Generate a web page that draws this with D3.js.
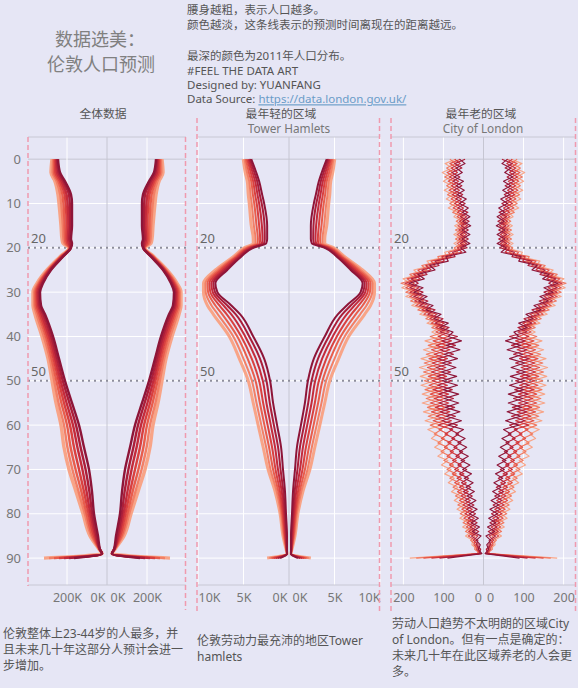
<!DOCTYPE html>
<html><head><meta charset="utf-8">
<script src="https://cdn.jsdelivr.net/npm/d3@7"></script>
<style>
html,body{margin:0;padding:0;background:#e6e6f5;}
svg{display:block;}
text{font-family:"Noto Sans","Noto Sans CJK SC",sans-serif;}
</style></head><body>
<svg id="c" width="578" height="688"></svg>
<script>
// ---------------- DATA ----------------
const years = [2011, 2016, 2021, 2026, 2031, 2036, 2041];
const ageKnots = [0,3,5,8,10,15,18,19,20,22,25,28,30,33,35,40,45,50,55,60,65,70,75,80,85,88,89,90];
const ageTicks = [0,10,20,30,40,50,60,70,80,90];
const markAges = [20, 50];

// 全体数据 (thousands)
const london2011 = [245,235,210,180,175,175,180,175,180,220,280,320,335,330,310,270,240,210,175,140,115,90,75,65,45,35,25,165];
const london2016 = [250,242,218,190,186,184,188,182,182,222,283,325,341,337,318,279,249,221,188,155,132,107,88,74,52,36,25,190];
const london2021 = [255,250,227,202,197,193,195,190,183,225,287,330,347,343,327,288,258,232,202,170,148,123,102,83,58,37,25,215];
const london2026 = [260,258,235,212,207,202,202,198,185,228,290,335,352,350,335,297,267,242,215,185,165,140,115,92,65,37,25,240];
const london2031 = [265,265,243,223,218,212,210,205,187,230,293,340,358,357,343,306,277,253,228,200,182,157,128,102,72,38,25,265];
const london2036 = [270,272,252,234,229,221,218,212,188,232,297,345,364,363,352,316,286,264,242,215,198,173,142,111,78,39,25,290];
const london2041 = [275,280,260,245,240,230,225,220,190,235,300,350,370,370,360,325,295,275,255,230,215,190,155,120,85,40,25,315];

// Tower Hamlets (thousands)
const th2011 = [4.15,3.60,3.28,2.95,2.73,2.40,2.40,2.51,3.93,5.25,6.78,8.09,7.87,6.34,5.36,3.93,2.73,2.08,1.75,1.31,0.87,0.66,0.44,0.33,0.22,0.22,0.22,0.98];
const th2016 = [4.30,3.80,3.50,3.21,3.00,2.69,2.66,2.75,4.10,5.40,7.00,8.31,8.13,6.78,5.85,4.37,3.19,2.48,2.11,1.66,1.20,0.93,0.62,0.44,0.29,0.24,0.22,1.22];
const th2021 = [4.44,4.00,3.72,3.46,3.28,2.98,2.91,2.98,4.26,5.54,7.22,8.53,8.38,7.21,6.34,4.81,3.64,2.88,2.48,2.00,1.53,1.21,0.80,0.55,0.37,0.26,0.22,1.45];
const th2026 = [4.59,4.20,3.94,3.72,3.55,3.28,3.17,3.22,4.43,5.69,7.44,8.75,8.64,7.65,6.84,5.25,4.10,3.28,2.84,2.35,1.86,1.48,0.99,0.66,0.44,0.28,0.22,1.69];
const th2031 = [4.74,4.41,4.15,3.97,3.82,3.57,3.42,3.46,4.59,5.83,7.65,8.96,8.89,8.09,7.33,5.68,4.55,3.68,3.20,2.70,2.19,1.75,1.17,0.76,0.51,0.29,0.22,1.93];
const th2036 = [4.88,4.61,4.37,4.23,4.10,3.86,3.68,3.69,4.76,5.98,7.87,9.18,9.15,8.52,7.82,6.12,5.01,4.08,3.57,3.04,2.51,2.03,1.35,0.87,0.59,0.31,0.22,2.16];
const th2041 = [5.03,4.81,4.59,4.48,4.37,4.15,3.93,3.93,4.92,6.12,8.09,9.40,9.40,8.96,8.31,6.56,5.46,4.48,3.93,3.39,2.84,2.30,1.53,0.98,0.66,0.33,0.22,2.40];

// City of London (persons, single years of age 0..90)
const cityYears = [2011, 2016, 2021, 2026, 2031, 2041];
const cityAges = d3.range(0, 91);
const city2011 = [60,46,68,53,73,50,68,48,66,43, 60,38,53,34,52,32,54,34,54,34, 57,44,94,88,134,121,164,148,186,151, 174,141,162,126,144,106,124,88,109,76, 88,55,93,59,98,65,103,69,105,67, 103,65,101,62,98,62,95,59,93,55, 88,50,69,46,64,42,60,38,56,34, 52,30,48,26,44,23,41,19,38,16, 35,13,31,10,28,6,18,8,13,4, 90];
const city2016 = [46,72,54,79,59,76,54,74,52,69, 46,64,39,58,36,56,38,58,38,58, 41,77,71,121,111,154,141,181,163,184, 151,174,139,159,121,139,101,121,86,109, 65,104,70,108,75,114,80,118,82,116, 80,114,78,111,75,111,72,108,70,104, 65,84,62,79,56,74,52,69,47,64, 42,60,37,55,32,50,28,46,24,42, 20,38,16,34,12,30,14,18,7,11, 110];
const city2021 = [72,58,80,65,85,62,80,60,78,55, 72,50,65,42,60,40,62,42,62,42, 65,54,104,98,144,131,174,158,196,161, 184,151,172,136,154,116,134,98,119,86, 113,80,118,84,123,90,128,94,130,92, 128,90,126,87,123,87,120,84,118,80, 113,77,96,72,89,66,83,60,77,55, 72,49,66,43,60,38,56,33,51,28, 46,23,41,19,37,14,25,13,17,6, 130];
const city2026 = [58,84,66,91,71,88,66,86,64,81, 58,76,51,66,44,64,46,66,46,66, 49,87,81,131,121,164,151,191,173,194, 161,184,149,169,131,149,111,131,96,119, 87,126,92,130,97,136,102,140,104,138, 102,136,100,133,97,133,94,130,92,126, 87,111,89,105,81,98,75,91,68,85, 62,78,55,72,48,65,43,60,37,54, 32,49,26,43,21,38,20,24,11,14, 150];
const city2031 = [84,70,92,77,97,74,92,72,90,67, 84,62,77,50,68,48,70,50,70,50, 73,64,114,108,154,141,184,168,206,171, 194,161,182,146,164,126,144,108,129,96, 133,100,138,104,143,110,148,114,150,112, 148,110,146,107,143,107,140,104,138,100, 133,105,123,98,114,90,106,83,99,75, 91,68,84,60,76,53,70,46,64,40, 58,34,51,28,45,21,32,19,22,8, 168];
const city2041 = [70,96,78,103,83,100,78,98,76,93, 70,88,63,74,52,72,54,74,54,74, 57,97,91,141,131,174,161,201,183,204, 171,194,159,179,141,159,121,141,106,129, 107,146,112,150,117,156,122,160,124,158, 122,156,120,153,117,153,114,150,112,146, 107,139,116,130,106,122,98,114,89,105, 81,97,73,88,64,80,57,73,50,66, 43,59,36,52,29,45,27,29,16,14, 184];

const londonTicks = [0, 200];
const thTicks = [0, 5, 10];
const cityTicks = [0, 100, 200];

// ---------------- DRAW ----------------
const svg = d3.select("#c");
svg.append("rect").attr("width",578).attr("height",688).attr("fill","#e6e6f5");

const y = d3.scaleLinear().domain([-5, 96]).range([137, 584.7]);
const colorAt = d3.interpolateRgbBasis(["#8e1538","#c8253a","#ec5942","#f8a487"]);

const panels = [
  {l:28, r:186, cx:107, max:395, ticks:londonTicks, fmt:d=>d+"K", ages:ageKnots,
   series:[london2011,london2016,london2021,london2026,london2031,london2036,london2041],
   curve:d3.curveMonotoneY, sw:2.4, dashTop:137, dashBotL:586, dashBotR:610},
  {l:197, r:380, cx:289, max:10, ticks:thTicks, fmt:d=>d+"K", ages:ageKnots, rl:198,
   series:[th2011,th2016,th2021,th2026,th2031,th2036,th2041],
   curve:d3.curveMonotoneY, sw:2.0, dashTop:118, dashBotL:612, dashBotR:612},
  {l:391, r:576, cx:483.5, max:231, ticks:cityTicks, fmt:d=>d, ages:cityAges,
   series:[city2011,city2016,city2021,city2026,city2031,city2041],
   curve:d3.curveLinear, sw:1.15, dashTop:118, dashBotL:612, dashBotR:612}
];

panels.forEach(p => {
  const g = svg.append("g");
  const xl = d3.scaleLinear().domain([0, p.max]).range([p.cx, p.rl || p.l]);
  const xr = d3.scaleLinear().domain([0, p.max]).range([p.cx, p.r]);
  const x0 = p.rl || p.l;
  ageTicks.forEach(a => {
    g.append("line").attr("x1",x0).attr("x2",p.r).attr("y1",y(a)).attr("y2",y(a))
      .attr("stroke", a===0 ? "#c6c6d2" : "#ffffff").attr("stroke-width",1);
  });
  p.ticks.filter(t=>t>0).forEach(t => {
    [xl(t), xr(t)].forEach(xx => {
      g.append("line").attr("x1",xx).attr("x2",xx).attr("y1",137).attr("y2",585)
        .attr("stroke","#ffffff").attr("stroke-width",1);
    });
  });
  g.append("line").attr("x1",p.cx).attr("x2",p.cx).attr("y1",137).attr("y2",585)
    .attr("stroke","#c6c6d2").attr("stroke-width",1);
  [137, 585].forEach(yy => g.append("line").attr("x1",x0).attr("x2",p.r).attr("y1",yy).attr("y2",yy)
      .attr("stroke","#c8c8d4").attr("stroke-width",1));
  markAges.forEach(a => {
    g.append("line").attr("x1",x0).attr("x2",p.r).attr("y1",y(a)).attr("y2",y(a))
      .attr("stroke","#8e8e9c").attr("stroke-width",2).attr("stroke-dasharray","2,4");
    g.append("text").attr("x",p.l+3).attr("y",y(a)-5).attr("font-size",13)
      .attr("fill","#666").text(a);
  });
  const n = p.series.length;
  for (let i = n-1; i >= 0; i--) {
    const vals = p.series[i];
    const pts = p.ages.map((a,k)=>[a, vals[k]]);
    const c = colorAt(i/(n-1));
    const w = (i===n-1 && p.curve!==d3.curveLinear) ? p.sw+1.0 : p.sw;
    [xl, xr].forEach(xs => {
      const line = d3.line().x(d=>xs(d[1])).y(d=>y(d[0])).curve(p.curve);
      g.append("path").attr("d", line(pts)).attr("fill","none")
        .attr("stroke", c).attr("stroke-width", w).attr("stroke-linejoin","round");
    });
  }
  [[xl,"L"],[xr,"R"]].forEach(([xs,side]) => {
    const ax = g.append("g").attr("transform","translate(0,585)")
      .call(d3.axisBottom(xs).tickValues(p.ticks).tickFormat(p.fmt).tickSize(0).tickPadding(8));
    ax.select(".domain").remove();
    ax.selectAll("text").attr("font-size",12.5).attr("fill","#777")
      .attr("font-family",'"Noto Sans",sans-serif')
      .each(function(d){
        const t = d3.select(this);
        const px = xs(d);
        if (d===0) { t.attr("text-anchor", side==="L"?"end":"start").attr("dx", side==="L"?-2:3); }
        else if (Math.abs(px - xs.range()[1]) < 2) { t.attr("text-anchor", side==="L"?"start":"end"); }
      });
  });
  g.append("line").attr("x1",p.l).attr("x2",p.l).attr("y1",p.dashTop).attr("y2",p.dashBotL)
    .attr("stroke","#f09aae").attr("stroke-width",1.5).attr("stroke-dasharray","5,3");
  g.append("line").attr("x1",p.r-0.5).attr("x2",p.r-0.5).attr("y1",p.dashTop).attr("y2",p.dashBotR)
    .attr("stroke","#f09aae").attr("stroke-width",1.5).attr("stroke-dasharray","5,3");
});

const yax = svg.append("g").attr("transform","translate(24,0)")
  .call(d3.axisLeft(y).tickValues(ageTicks).tickSize(0).tickPadding(3));
yax.select(".domain").remove();
yax.selectAll("text").attr("font-size",13).attr("fill","#777")
  .attr("font-family",'"Noto Sans",sans-serif');

svg.append("text").attr("x",55).attr("y",46).attr("font-size",18).attr("fill","#808080").text("数据选美：");
svg.append("text").attr("x",47).attr("y",71).attr("font-size",18).attr("fill","#808080").text("伦敦人口预测");

const notes = [
  [10,"腰身越粗，表示人口越多。"],
  [24.5,"颜色越淡，这条线表示的预测时间离现在的距离越远。"],
  [56,"最深的颜色为2011年人口分布。"],
  [70.5,"#FEEL THE DATA ART"],
  [85,"Designed by: YUANFANG"]
];
notes.forEach(([yy,t]) => svg.append("text").attr("x",187).attr("y",yy+4.3)
  .attr("font-size",11.5).attr("fill","#555").text(t));
const ds = svg.append("text").attr("x",187).attr("y",99+4.3).attr("font-size",11.5).attr("fill","#555");
ds.append("tspan").text("Data Source: ");
ds.append("tspan").attr("fill","#6a9cc8").attr("text-decoration","underline").text("https://data.london.gov.uk/");

const heads = [[103,114,"全体数据","#555"],[281,114,"最年轻的区域","#555"],[289,128.5,"Tower Hamlets","#777"],
               [481,114,"最年老的区域","#555"],[483,128.5,"City of London","#777"]];
heads.forEach(([xx,yy,t,c]) => svg.append("text").attr("x",xx).attr("y",yy+4.3)
  .attr("text-anchor","middle").attr("font-size",11.8).attr("fill",c).text(t));

const foot = [
  [3,[633,649,665],["伦敦整体上23-44岁的人最多，并","且未来几十年这部分人预计会进一","步增加。"]],
  [197,[640,656],["伦敦劳动力最充沛的地区Tower","hamlets"]],
  [392,[623,639,655,671],["劳动人口趋势不太明朗的区域City","of London。但有一点是确定的：","未来几十年在此区域养老的人会更","多。"]]
];
foot.forEach(([xx,ys,lines]) => lines.forEach((t,i) => svg.append("text").attr("x",xx).attr("y",ys[i]+4.5)
  .attr("font-size",12).attr("fill","#555").text(t)));
</script>
</body></html>
